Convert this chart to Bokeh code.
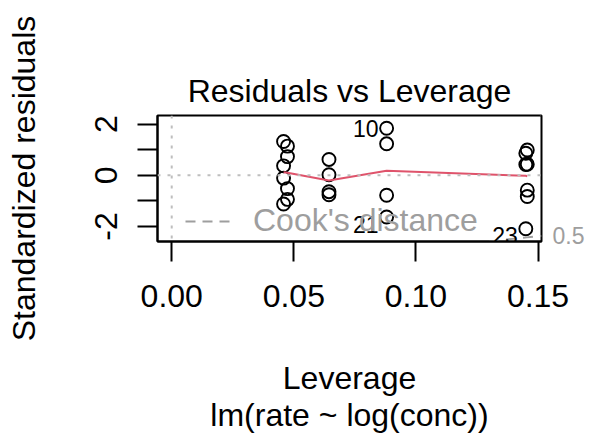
import numpy as np
from bokeh.plotting import figure
from bokeh.models import (Range1d, FixedTicker, Span, Legend, LegendItem, Title,
                          ColumnDataSource, LinearAxis, CustomJSTickFormatter)
from bokeh.core.properties import value
from bokeh.embed import file_html
from bokeh.resources import INLINE

# ---------------- data ----------------
obs_id = list(range(1, 24))
leverage = [0.1456, 0.1456, 0.0644, 0.0644, 0.0458, 0.0458, 0.0474, 0.0474,
            0.0880, 0.0880, 0.1450, 0.1450, 0.1456, 0.1456, 0.0644, 0.0644,
            0.0458, 0.0458, 0.0474, 0.0474, 0.0880, 0.0880, 0.1450]
std_resid = [0.99, -0.83, 0.02, 0.62, 0.37, 1.32, 1.14, 0.73, 1.23, 1.84,
             0.86, 0.42, 0.43, -0.58, -0.76, -0.64, -1.12, -0.11, -0.52,
             -0.94, -1.63, -0.78, -2.09]
smooth_lev = [0.0458, 0.0474, 0.0644, 0.0880, 0.1450, 0.1456]
smooth_fit = [0.12, 0.10, -0.20, 0.18, -0.02, -0.04]
flagged_ids = [10, 21, 23]
cook_levels = [0.5, 1.0]
n_params = 2
x_ticks = [0.0, 0.05, 0.10, 0.15]
x_tick_labels = ["0.00", "0.05", "0.10", "0.15"]
y_ticks = [-2, -1, 0, 1, 2]
y_tick_labels = ["-2", "", "0", "", "2"]

title_text = "Residuals vs Leverage"
x_label = "Leverage"
y_label = "Standardized residuals"
sub_caption = "lm(rate ~ log(conc))"
legend_text = "Cook's distance"

FONT = "Liberation Sans"
GREY = "#9E9E9E"
LIGHT = "#BEBEBE"
RED = "#DF536B"
FS = "32px"
FS_ID = "23px"

# ---------------- ranges like R ----------------
xmax = max(leverage)
xpad = 0.04 * xmax
x0, x1 = -xpad, xmax + xpad
rmin, rmax = min(std_resid), max(std_resid)
rr = rmax - rmin
ylo, yhi = rmin - 0.08 * rr, rmax + 0.08 * rr
ypad = 0.04 * (yhi - ylo)
y0, y1 = ylo - ypad, yhi + ypad

p = figure(width=595, height=444, x_range=Range1d(x0, x1), y_range=Range1d(y0, y1),
           output_backend="svg", toolbar_location=None,
           min_border_left=157, min_border_right=54, min_border_top=115,
           min_border_bottom=203)
p.xgrid.visible = False
p.ygrid.visible = False
p.background_fill_color = "white"
p.border_fill_color = "white"
p.outline_line_color = "black"
p.outline_line_width = 2

# title
p.title.text = title_text
p.title.align = "center"
p.title.text_font = FONT
p.title.text_font_size = FS
p.title.text_font_style = "normal"
p.title.text_color = "black"
p.title.standoff = 13

sub = Title(text=sub_caption, align="center", text_font=FONT, text_font_size=FS,
            text_font_style="normal", text_color="black", standoff=-7)
p.add_layout(sub, "below")

# axes
for ax in (p.xaxis[0], p.yaxis[0]):
    ax.axis_line_color = "black"
    ax.axis_line_width = 2
    ax.major_tick_line_color = "black"
    ax.major_tick_line_width = 2
    ax.major_tick_in = 0
    ax.major_tick_out = 20
    ax.minor_tick_line_color = None
    ax.major_label_text_font = FONT
    ax.major_label_text_font_size = FS
    ax.major_label_text_color = "black"
    ax.axis_label_text_font = FONT
    ax.axis_label_text_font_size = FS
    ax.axis_label_text_font_style = "normal"
    ax.axis_label_text_color = "black"

p.xaxis[0].ticker = FixedTicker(ticks=x_ticks)
p.xaxis[0].major_label_overrides = {t: s for t, s in zip(x_ticks, x_tick_labels)}
p.xaxis[0].major_label_standoff = 23
p.xaxis[0].axis_label = x_label
p.xaxis[0].axis_label_standoff = 50

p.yaxis[0].ticker = FixedTicker(ticks=y_ticks)
p.yaxis[0].major_label_overrides = {t: s for t, s in zip(y_ticks, y_tick_labels)}
p.yaxis[0].major_label_orientation = "vertical"
p.yaxis[0].major_label_standoff = 20
p.yaxis[0].axis_label = y_label
p.yaxis[0].axis_label_standoff = 51

# points
p.scatter(leverage, std_resid, marker="circle", size=13, fill_color=None,
          line_color="black", line_width=1.9)

# smoother
p.line(smooth_lev, smooth_fit, line_color=RED, line_width=2)

# reference dotted lines
p.add_layout(Span(location=0, dimension="width", line_color=LIGHT, line_width=2,
                  line_dash="3 7"))
p.add_layout(Span(location=0, dimension="height", line_color=LIGHT, line_width=2,
                  line_dash="3 7"))

# Cook's distance contours
hh = np.linspace(min(min(leverage), max(leverage) / 100), x1, 101)
cook_renderers = []
for crit in cook_levels:
    cl = np.sqrt(crit * n_params * (1 - hh) / hh)
    r1 = p.line(hh, cl, line_color=GREY, line_width=1.9, line_dash="10 7")
    r2 = p.line(hh, -cl, line_color=GREY, line_width=1.9, line_dash="10 7")
    cook_renderers += [r1, r2]

legend = Legend(items=[LegendItem(label=legend_text, renderers=[cook_renderers[1]])],
                location=(26, 0), padding=2, margin=0, glyph_width=50,
                glyph_height=20, label_standoff=18, label_text_font=FONT,
                label_text_font_size=FS, label_text_color=GREY,
                background_fill_alpha=0, border_line_alpha=0)
p.add_layout(legend)

# Cook's level labels on the right side (like R's axis(4))
ymult = float(np.sqrt(n_params * (1 - x1) / x1))
cook_ticks, cook_labels = [], []
for crit in cook_levels:
    aty = float(np.sqrt(crit)) * ymult
    for yy in (-aty, aty):
        if y0 <= yy <= y1:
            cook_ticks.append(yy)
            cook_labels.append(str(crit))
rax = LinearAxis(
    ticker=FixedTicker(ticks=cook_ticks),
    formatter=CustomJSTickFormatter(
        args=dict(cvals=cook_ticks, clabs=cook_labels),
        code="for (let i = 0; i < cvals.length; i++) {"
             " if (Math.abs(tick - cvals[i]) < 1e-9) return clabs[i]; }"
             " return '';"),
    axis_line_color=None, major_tick_line_color=None, minor_tick_line_color=None,
    major_tick_in=0, major_tick_out=0, major_label_standoff=11,
    major_label_text_font=FONT, major_label_text_font_size=FS_ID,
    major_label_text_color=GREY)
p.add_layout(rax, "right")

# id labels of the flagged observations
id_x = [leverage[i - 1] for i in flagged_ids]
id_y = [std_resid[i - 1] for i in flagged_ids]
id_off = [7 if v < 0 else 0 for v in id_y]
src = ColumnDataSource(dict(x=id_x, y=id_y, t=[str(i) for i in flagged_ids], off=id_off))
p.text(x="x", y="y", text="t", source=src, x_offset=-8, y_offset="off",
       text_align="right", text_baseline="middle", text_font=value(FONT),
       text_font_size=FS_ID, text_color="black")

open("out.html", "w").write(file_html(p, INLINE))
